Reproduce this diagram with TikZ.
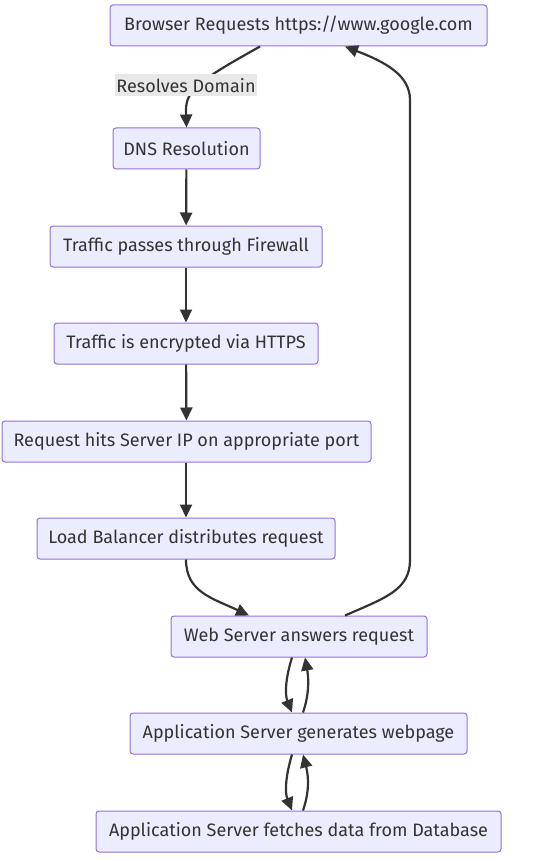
\documentclass[tikz,border=0pt]{standalone}
\usepackage{fontspec}
\setmainfont{Fira Sans}
\usetikzlibrary{arrows.meta,calc}
\definecolor{boxfill}{HTML}{ECECFF}
\definecolor{boxdraw}{HTML}{9370DB}
\definecolor{ink}{HTML}{333333}
\definecolor{lblbg}{HTML}{E8E8E8}
\tikzset{
  box/.style={draw=boxdraw, fill=boxfill, rounded corners=3pt, line width=1pt,
    minimum height=41pt, inner sep=0pt, text=ink, font=\fontsize{18}{21}\selectfont},
  conn/.style={draw=ink, line width=2.2pt, -{Triangle[length=13pt,width=12pt]}},
  lbl/.style={fill=lblbg, text=ink, inner sep=1pt, minimum height=22pt, minimum width=137pt, font=\fontsize{18}{21}\selectfont}
}
\begin{document}
\begin{tikzpicture}[x=1pt,y=-1pt]
\useasboundingbox (0,0) rectangle (557,861);
\node[box, minimum width=377pt] (b) at (298.5,25.5) {Browser Requests https://www.google.com};
\node[box, minimum width=147pt] (dns) at (186.5,148.5) {DNS Resolution};
\node[box, minimum width=272pt] (fw) at (186,246.5) {Traffic passes through Firewall};
\node[box, minimum width=264pt] (https) at (186,343.5) {Traffic is encrypted via HTTPS};
\node[box, minimum width=369pt] (ip) at (186.5,441.5) {Request hits Server IP on appropriate port};
\node[box, minimum width=298pt] (lb) at (186,538.5) {Load Balancer distributes request};
\node[box, minimum width=256pt] (web) at (299,636.5) {Web Server answers request};
\node[box, minimum width=337pt] (gen) at (298.5,733.5) {Application Server generates webpage};
\node[box, minimum width=405pt] (db) at (298.5,831.5) {Application Server fetches data from Database};

\draw[conn] ([xshift=-38.5pt]b.south) .. controls (200,80) and (186,90) .. (186,110) -- (dns.north);
\node[lbl] (rd) at (186,85.5) {Resolves Domain};
\draw[conn] (dns) -- (fw);
\draw[conn] (fw) -- (https);
\draw[conn] (https) -- (ip);
\draw[conn] (ip.south -| lb.north) -- (lb.north);
\draw[conn] ([xshift=0pt]lb.south) .. controls (186,592) and (212,598) .. ([xshift=-50pt]web.north);
\draw[conn] ([xshift=46pt]web.north) .. controls (385,598) and (410,590) .. (410,560) -- (410,100) .. controls (410,75) and (385,62) .. ([xshift=46.5pt]b.south);
\draw[conn] ([xshift=-7pt]web.south) .. controls (285,680) and (285,695) .. ([xshift=-6.5pt]gen.north);
\draw[conn] ([xshift=4.5pt]gen.north) .. controls (309,695) and (309,680) .. ([xshift=6pt]web.south);
\draw[conn] ([xshift=-6.5pt]gen.south) .. controls (285,778) and (285,793) .. ([xshift=-6.5pt]db.north);
\draw[conn] ([xshift=4.5pt]db.north) .. controls (309,793) and (309,778) .. ([xshift=4.5pt]gen.south);
\end{tikzpicture}
\end{document}
